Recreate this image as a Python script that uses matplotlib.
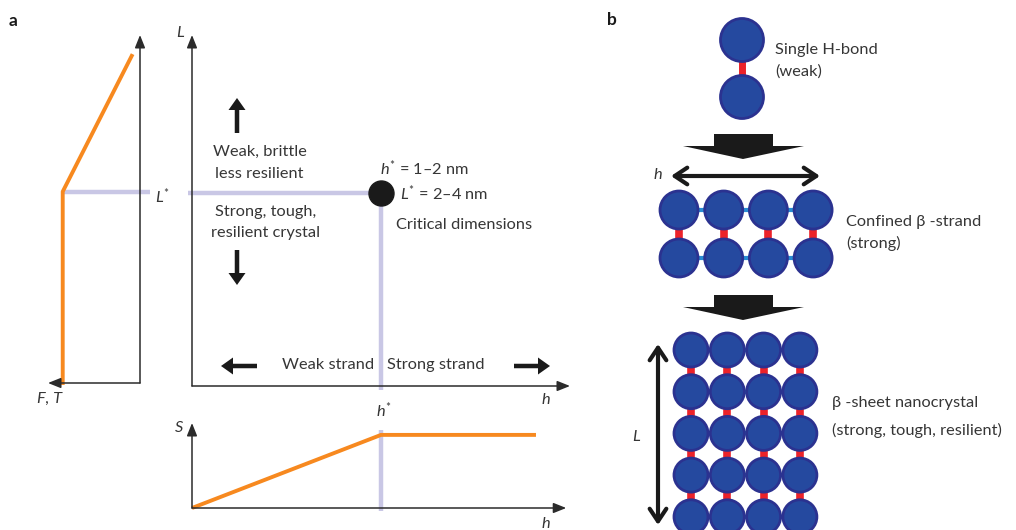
import matplotlib
matplotlib.use("Agg")
import matplotlib.pyplot as plt
from matplotlib.patches import Circle, Polygon, FancyArrow

plt.rcParams["font.family"] = ["Lato", "DejaVu Sans"]
plt.rcParams["mathtext.fontset"] = "custom"
plt.rcParams["mathtext.rm"] = "Lato"
plt.rcParams["mathtext.it"] = "Lato:italic"

# ---- schematic values -------------------------------------------------
L_STAR = 0.55          # critical length (fraction of the L axis)
H_STAR = 0.50          # critical width  (fraction of the h axis)

ft_force = [0.84, 0.84, 0.09]      # F, T (grows to the left)
ft_length = [0.0, L_STAR, 0.94]    # L

s_width = [0.0, H_STAR, 0.91]      # h
s_strength = [0.0, 0.86, 0.86]     # S

strand_columns = 4
sheet_rows = 5

# ---- styling -----------------------------------------------------------
W, H = 1016, 530
INK = "#363636"
ORANGE = "#F7891F"
LAVENDER = "#C9C7E5"
BEAD = "#25499F"
BEAD_EDGE = "#2B3290"
RED = "#EC2229"
BLUE = "#2A8CD3"
FS = 11.8

fig = plt.figure(figsize=(W / 100, H / 100), dpi=100)


def px_axes(left, top, right, bottom):
    ax = fig.add_axes([left / W, 1 - bottom / H, (right - left) / W, (bottom - top) / H])
    ax.set_axis_off()
    ax.patch.set_visible(False)
    return ax


def axis_arrow(ax, start, end):
    ax.annotate("", xy=end, xytext=start, annotation_clip=False,
                arrowprops=dict(arrowstyle="-|>,head_length=0.55,head_width=0.22",
                                lw=1.1, color="#2b2b2b", shrinkA=0, shrinkB=0,
                                mutation_scale=14))


# ---- F,T versus L ------------------------------------------------------
ax_ft = px_axes(48, 35, 140, 383)
ax_ft.set_xlim(1, 0)
ax_ft.set_ylim(0, 1)
ax_ft.plot([ft_force[1], -0.11], [L_STAR, L_STAR], color=LAVENDER, lw=3.2,
           clip_on=False, solid_capstyle="butt", zorder=1)
ax_ft.plot(ft_force, ft_length, color=ORANGE, lw=2.8, clip_on=False, zorder=3)
axis_arrow(ax_ft, (0, 0), (0, 1))
axis_arrow(ax_ft, (0, 0), (1, 0))

# ---- L versus h --------------------------------------------------------
ax_main = px_axes(192, 35, 570, 386)
ax_main.set_xlim(0, 1)
ax_main.set_ylim(0, 1)
ax_main.plot([-0.01, H_STAR], [L_STAR, L_STAR], color=LAVENDER, lw=3.2,
             clip_on=False, solid_capstyle="butt", zorder=1)
ax_main.plot([H_STAR, H_STAR], [L_STAR, -0.012], color=LAVENDER, lw=3.2,
             clip_on=False, solid_capstyle="butt", zorder=1)
ax_main.plot([H_STAR], [L_STAR], "o", ms=18, color="#1a1a1a", clip_on=False, zorder=4)
axis_arrow(ax_main, (0, 0), (0, 1))
axis_arrow(ax_main, (0, 0), (1, 0))

# ---- S versus h --------------------------------------------------------
ax_s = px_axes(192, 423, 570, 508)
ax_s.set_xlim(0, 1)
ax_s.set_ylim(0, 1)
ax_s.plot([H_STAR, H_STAR], [-0.03, 0.92], color=LAVENDER, lw=3.2,
          clip_on=False, solid_capstyle="butt", zorder=1)
ax_s.plot(s_width, s_strength, color=ORANGE, lw=2.8, clip_on=False, zorder=3,
          solid_capstyle="butt")
axis_arrow(ax_s, (0, 0), (0, 1))
axis_arrow(ax_s, (0, 0), (0.99, 0))

# ---- overlay in pixel space -------------------------------------------
ov = fig.add_axes([0, 0, 1, 1])
ov.set_xlim(0, W)
ov.set_ylim(H, 0)
ov.set_axis_off()
ov.patch.set_visible(False)


def txt(x, y, s, ha="left", **kw):
    kw.setdefault("fontsize", FS)
    kw.setdefault("color", INK)
    ov.text(x, y, s, ha=ha, va="center", **kw)


def thick_arrow(x0, y0, x1, y1):
    ov.add_patch(FancyArrow(x0, y0, x1 - x0, y1 - y0, width=4.5, head_width=17,
                            head_length=12, length_includes_head=True,
                            color="#1a1a1a", lw=0))


# panel labels
txt(9, 21, "a", fontsize=12.5, fontweight="bold", color="#1a1a1a")
txt(607, 20, "b", fontsize=12.5, fontweight="bold", color="#1a1a1a")

# panel a annotations
txt(180, 33, "L", ha="center", fontstyle="italic")
txt(163, 196, r"$L^{*}$", ha="center")
txt(50, 399, "F, T", ha="center", fontstyle="italic")
txt(546, 400, "h", ha="center", fontstyle="italic")
txt(384, 410, r"$h^{*}$", ha="center")
txt(179, 428, "S", ha="center", fontstyle="italic")
txt(546, 524, "h", ha="center", fontstyle="italic")

txt(260, 152, "Weak, brittle", ha="center")
txt(259, 174, "less resilient", ha="center")
txt(266, 212, "Strong, tough,", ha="center")
txt(266, 233, "resilient crystal", ha="center")
txt(380, 168, r"$h^{*}$ = 1–2 nm")
txt(400, 193, r"$L^{*}$ = 2–4 nm")
txt(396, 225, "Critical dimensions")
txt(374, 365, "Weak strand", ha="right")
txt(387, 365, "Strong strand")

thick_arrow(237, 133, 237, 98)
thick_arrow(237, 250, 237, 285)
thick_arrow(257, 366, 221, 366)
thick_arrow(514, 366, 550, 366)

# panel b: molecular sketches


def bead(x, y, r):
    ov.add_patch(Circle((x, y), r, facecolor=BEAD, edgecolor=BEAD_EDGE, lw=2, zorder=3))


def bond(x0, y0, x1, y1, color, lw):
    ov.plot([x0, x1], [y0, y1], color=color, lw=lw, zorder=2, solid_capstyle="butt")


def block_arrow(y_top, y_tip):
    cx = 743
    ov.add_patch(Polygon([(cx - 29, y_top), (cx + 30, y_top), (cx + 30, y_top + 12),
                          (cx + 61, y_top + 12), (cx, y_tip), (cx - 60, y_top + 12),
                          (cx - 29, y_top + 12)], closed=True, color="#1a1a1a", lw=0))


# single hydrogen bond
bond(742, 40, 742, 97, RED, 5)
bead(742, 40, 21.5)
bead(742, 97, 21.5)
txt(775, 50, "Single H-bond")
txt(775, 72, "(weak)")

block_arrow(134, 159)

# confined strand (2 x strand_columns)
ov.annotate("", xy=(820, 176), xytext=(671, 176),
            arrowprops=dict(arrowstyle="<->,head_length=0.45,head_width=0.3",
                            lw=3, color="#1a1a1a", shrinkA=0, shrinkB=0,
                            mutation_scale=20))
txt(658, 175, "h", ha="center", fontstyle="italic")
sx0, sdx, sy = 679, 44.7, [210, 258]
for j in range(2):
    bond(sx0, sy[j], sx0 + sdx * (strand_columns - 1), sy[j], BLUE, 3)
for i in range(strand_columns):
    x = sx0 + i * sdx
    bond(x, sy[0], x, sy[1], RED, 5.5)
    for y in sy:
        bead(x, y, 19)
txt(846, 222, "Confined β -strand")
txt(846, 243, "(strong)")

block_arrow(295, 320)

# nanocrystal sheet (sheet_rows x strand_columns)
ov.annotate("", xy=(658, 525), xytext=(658, 344), annotation_clip=False,
            arrowprops=dict(arrowstyle="<->,head_length=0.45,head_width=0.3",
                            lw=3, color="#1a1a1a", shrinkA=0, shrinkB=0,
                            mutation_scale=20))
txt(636, 437, "L", ha="center", fontstyle="italic")
gx0, gdx, gy0, gdy = 691, 36.3, 350, 41.7
for r in range(sheet_rows):
    y = gy0 + r * gdy
    bond(gx0, y, gx0 + gdx * (strand_columns - 1), y, BLUE, 3)
for i in range(strand_columns):
    x = gx0 + i * gdx
    bond(x, gy0, x, gy0 + gdy * (sheet_rows - 1), RED, 5.5)
    for r in range(sheet_rows):
        bead(x, gy0 + r * gdy, 17)
txt(832, 403, "β -sheet nanocrystal")
txt(832, 430, "(strong, tough, resilient)")

fig.savefig("out.png", dpi=100)
